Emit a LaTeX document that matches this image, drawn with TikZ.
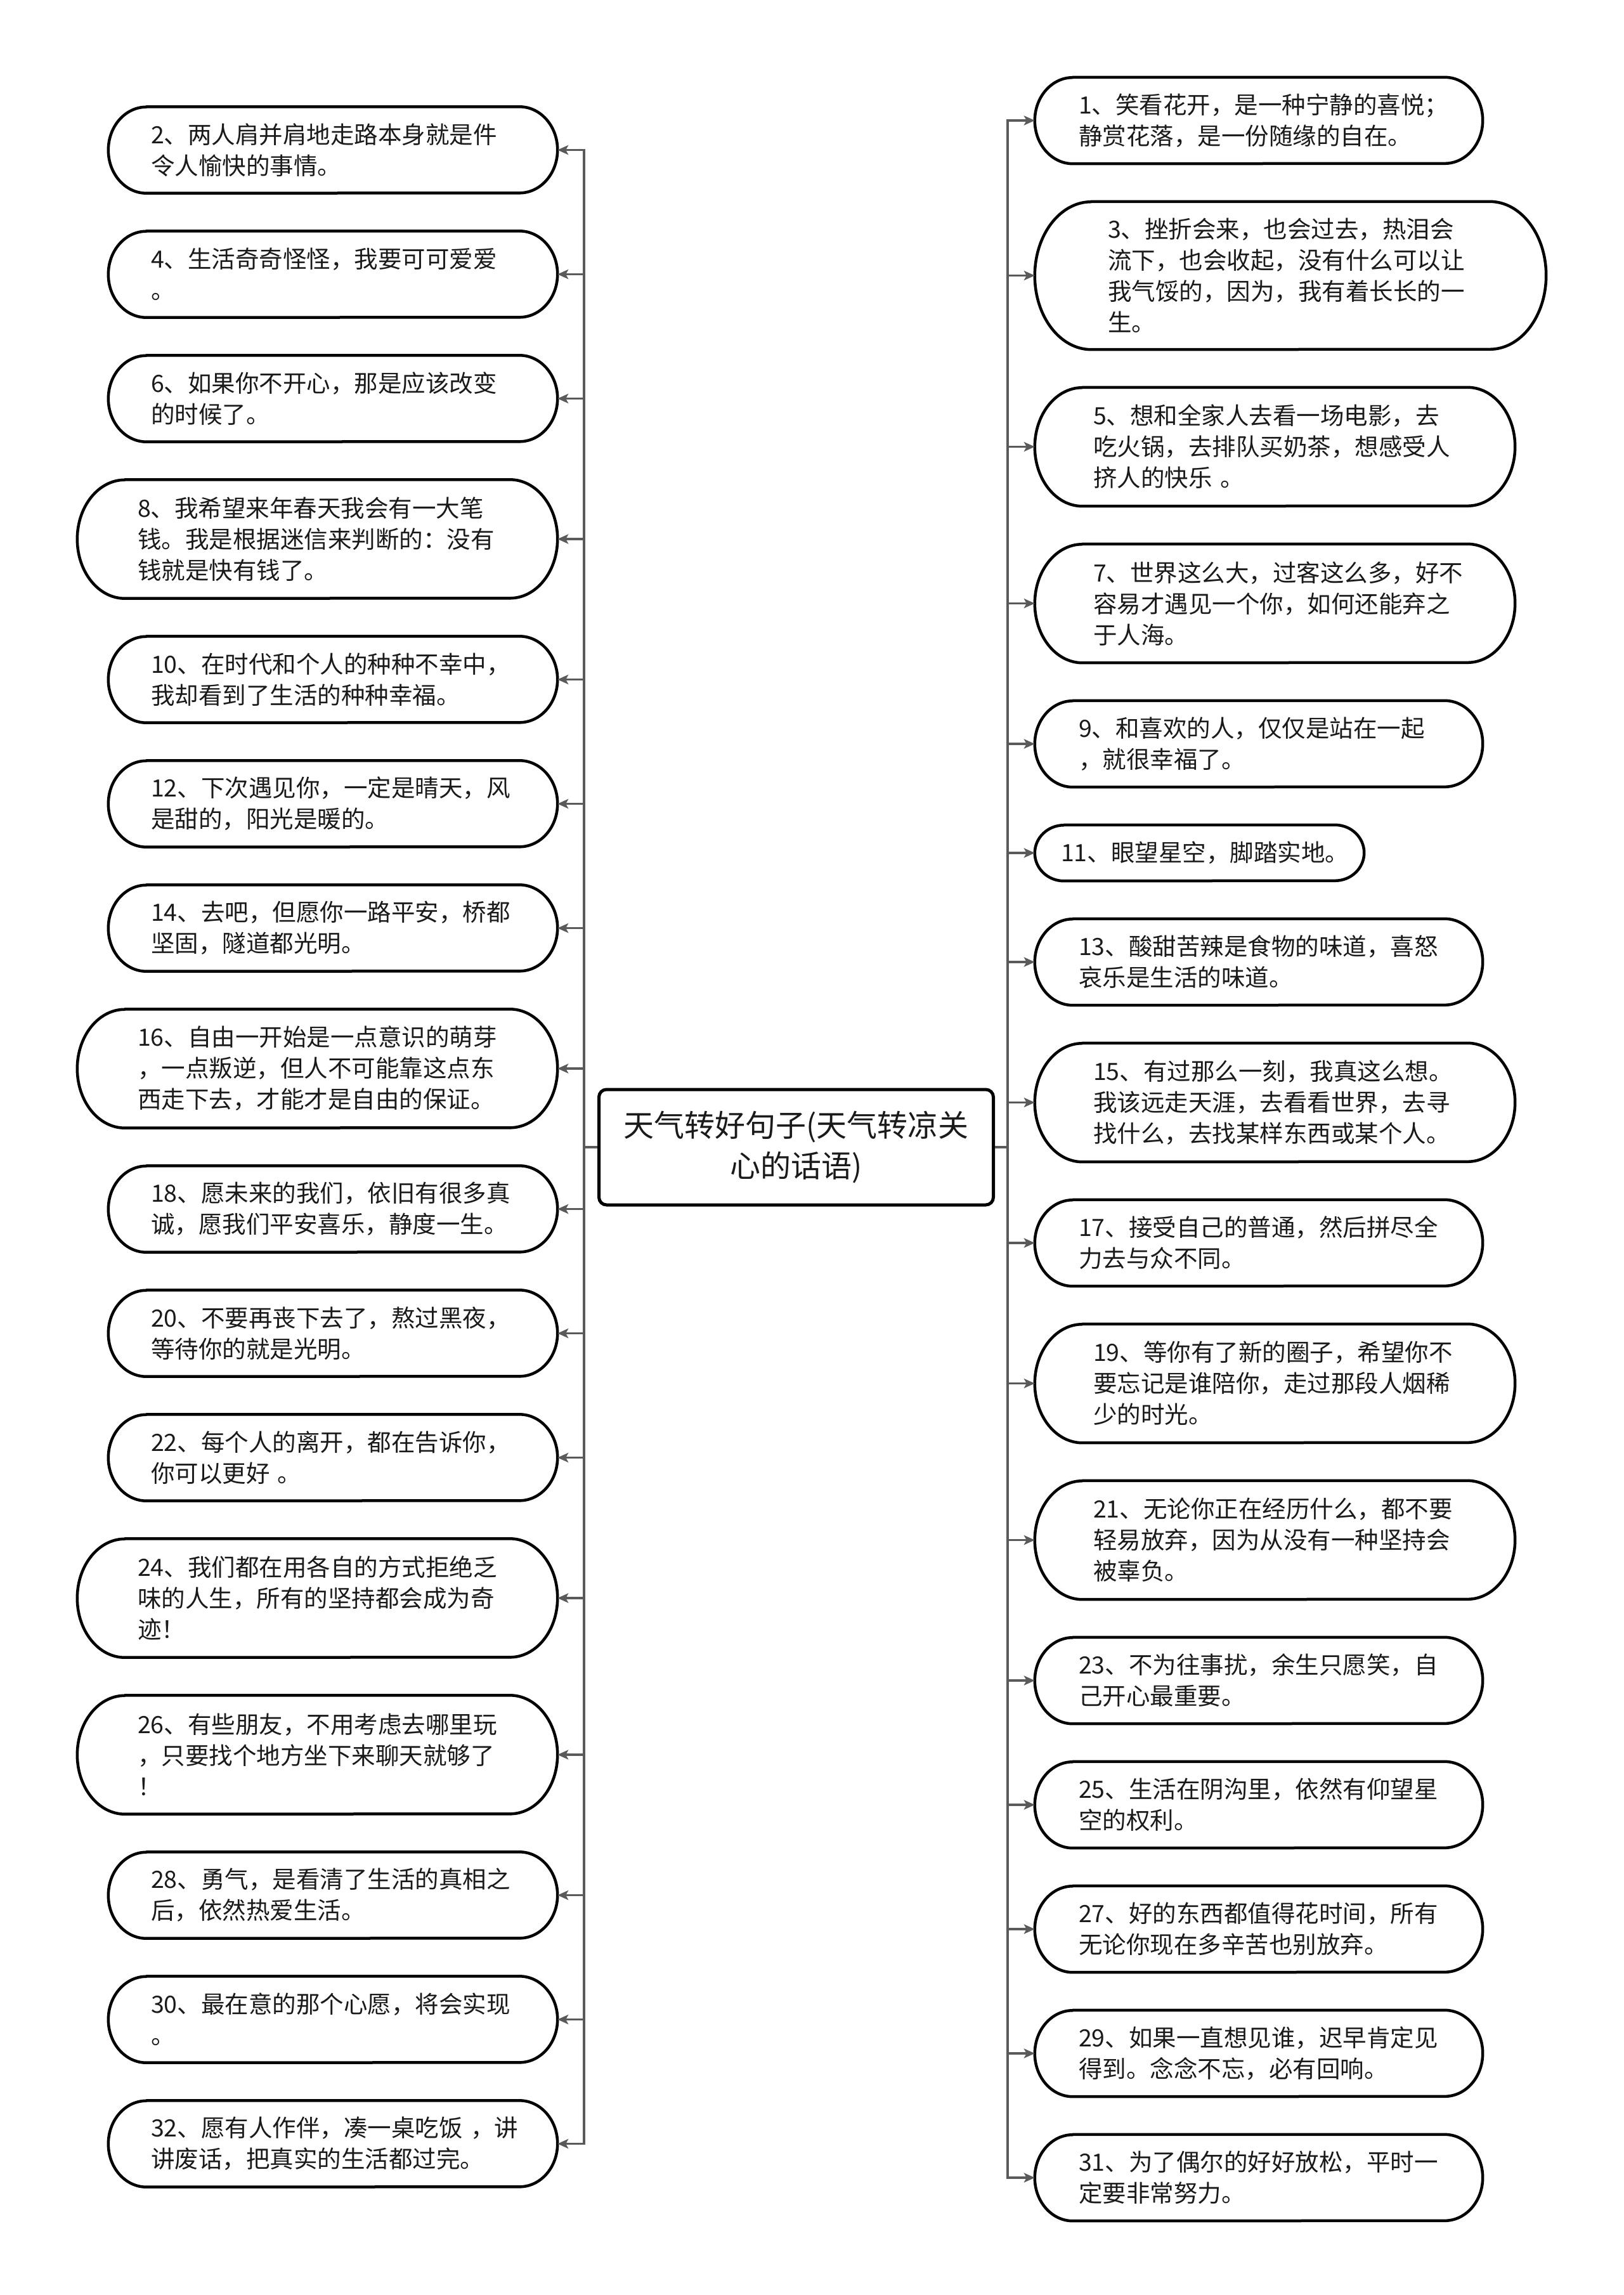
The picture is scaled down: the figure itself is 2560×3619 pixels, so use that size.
\documentclass[tikz,border=0pt]{standalone}
\usepackage{fontspec}
\setmainfont{Noto Sans CJK SC}
\usetikzlibrary{arrows.meta}
\definecolor{conncol}{HTML}{5A5A5A}
\definecolor{txtcol}{HTML}{1A1A1A}
\tikzset{
  leaf/.style={rectangle, inner sep=0pt, align=left, text=txtcol, font=\fontsize{37.5}{49}\selectfont},
  pillline/.style={draw=black, line width=4.5pt, line join=round},
  conn/.style={draw=conncol, line width=3.5pt, -{Stealth[length=17pt,width=15pt,inset=4pt]}},
  rootbox/.style={draw=black, line width=5pt, rounded corners=12pt, minimum width=622pt, minimum height=182pt, align=center, text=txtcol, font=\fontsize{48}{64}\selectfont, inner sep=0pt}
}
% #1 name, #2 x0, #3 x1, #4 centre y, #5 height, #6 left pad, #7 end radius, #8 text
\newcommand\pill[8]{%
  \pgfmathsetmacro\pw{#3-#2}%
  \pgfmathsetmacro\ptw{#3-#2-2*#6}%
  \pgfmathsetmacro\pcx{(#2+#3)/2}%
  \pgfmathsetmacro\phh{#5/2}%
  \node[leaf, minimum width=\pw pt, minimum height=#5pt, text width=\ptw pt] (#1) at (\pcx,-#4) {#8};
  \draw[pillline] ([xshift=#7pt]#1.north west) -- ([xshift=-#7pt]#1.north east)
    arc[start angle=90, end angle=-90, x radius=#7pt, y radius=\phh pt]
    -- ([xshift=#7pt]#1.south west)
    arc[start angle=270, end angle=90, x radius=#7pt, y radius=\phh pt] -- cycle;
}
\begin{document}
\begin{tikzpicture}[x=1pt,y=1pt]
\fill[white] (0,0) rectangle (2560,-3619);
\useasboundingbox (0,0) rectangle (2560,-3619);

\node[rootbox] (root) at (1255.5,-1809) {天气转好句子(天气转凉关\\心的话语)};
\coordinate (lt) at (921,-1809);
\coordinate (rt) at (1589,-1809);

% left column
\pill{n2}{171}{879}{236.5}{136}{67}{60}{2、两人肩并肩地走路本身就是件\\令人愉快的事情。}
\pill{n4}{171}{879}{432.5}{136}{67}{60}{4、生活奇奇怪怪，我要可可爱爱\\。}
\pill{n6}{171}{879}{628.5}{136}{67}{60}{6、如果你不开心，那是应该改变\\的时候了。}
\pill{n8}{122}{879}{850}{187}{95}{75}{8、我希望来年春天我会有一大笔\\钱。我是根据迷信来判断的：没有\\钱就是快有钱了。}
\pill{n10}{171}{879}{1071.5}{136}{67}{60}{10、在时代和个人的种种不幸中，\\我却看到了生活的种种幸福。}
\pill{n12}{171}{879}{1267.5}{136}{67}{60}{12、下次遇见你，一定是晴天，风\\是甜的，阳光是暖的。}
\pill{n14}{171}{879}{1463.5}{136}{67}{60}{14、去吧，但愿你一路平安，桥都\\坚固，隧道都光明。}
\pill{n16}{122}{879}{1685}{187}{95}{75}{16、自由一开始是一点意识的萌芽\\，一点叛逆，但人不可能靠这点东\\西走下去，才能才是自由的保证。}
\pill{n18}{171}{879}{1906.5}{136}{67}{60}{18、愿未来的我们，依旧有很多真\\诚，愿我们平安喜乐，静度一生。}
\pill{n20}{171}{879}{2102.5}{136}{67}{60}{20、不要再丧下去了，熬过黑夜，\\等待你的就是光明。}
\pill{n22}{171}{879}{2298.5}{136}{67}{60}{22、每个人的离开，都在告诉你，\\你可以更好~。}
\pill{n24}{122}{879}{2520}{187}{95}{75}{24、我们都在用各自的方式拒绝乏\\味的人生，所有的坚持都会成为奇\\迹！}
\pill{n26}{122}{879}{2767}{187}{95}{75}{26、有些朋友，不用考虑去哪里玩\\，只要找个地方坐下来聊天就够了\\！}
\pill{n28}{171}{879}{2988.5}{136}{67}{60}{28、勇气，是看清了生活的真相之\\后，依然热爱生活。}
\pill{n30}{171}{879}{3184.5}{136}{67}{60}{30、最在意的那个心愿，将会实现\\。}
\pill{n32}{171}{879}{3380.5}{136}{67}{60}{32、愿有人作伴，凑一桌吃饭~，讲\\讲废话，把真实的生活都过完。}

% right column
\pill{n1}{1632}{2338}{190}{136}{69}{60}{1、笑看花开，是一种宁静的喜悦；\\静赏花落，是一份随缘的自在。}
\pill{n3}{1632}{2438}{434.5}{233}{115}{89}{3、挫折会来，也会过去，热泪会\\流下，也会收起，没有什么可以让\\我气馁的，因为，我有着长长的一\\生。}
\pill{n5}{1632}{2389}{704.5}{187}{92}{75}{5、想和全家人去看一场电影，去\\吃火锅，去排队买奶茶，想感受人\\挤人的快乐~。}
\pill{n7}{1632}{2389}{951.5}{187}{92}{75}{7、世界这么大，过客这么多，好不\\容易才遇见一个你，如何还能弃之\\于人海。}
\pill{n9}{1632}{2338}{1173}{136}{69}{60}{9、和喜欢的人，仅仅是站在一起\\，就很幸福了。}
\pill{n11}{1632}{2151}{1345}{88}{41}{46}{11、眼望星空，脚踏实地。}
\pill{n13}{1632}{2338}{1517}{136}{69}{60}{13、酸甜苦辣是食物的味道，喜怒\\哀乐是生活的味道。}
\pill{n15}{1632}{2389}{1738.5}{187}{92}{75}{15、有过那么一刻，我真这么想。\\我该远走天涯，去看看世界，去寻\\找什么，去找某样东西或某个人。}
\pill{n17}{1632}{2338}{1960}{136}{69}{60}{17、接受自己的普通，然后拼尽全\\力去与众不同。}
\pill{n19}{1632}{2389}{2181.5}{187}{92}{75}{19、等你有了新的圈子，希望你不\\要忘记是谁陪你，走过那段人烟稀\\少的时光。}
\pill{n21}{1632}{2389}{2428.5}{187}{92}{75}{21、无论你正在经历什么，都不要\\轻易放弃，因为从没有一种坚持会\\被辜负。}
\pill{n23}{1632}{2338}{2650}{136}{69}{60}{23、不为往事扰，余生只愿笑，自\\己开心最重要。}
\pill{n25}{1632}{2338}{2846}{136}{69}{60}{25、生活在阴沟里，依然有仰望星\\空的权利。}
\pill{n27}{1632}{2338}{3042}{136}{69}{60}{27、好的东西都值得花时间，所有\\无论你现在多辛苦也别放弃。}
\pill{n29}{1632}{2338}{3238}{136}{69}{60}{29、如果一直想见谁，迟早肯定见\\得到。念念不忘，必有回响。}
\pill{n31}{1632}{2338}{3434}{136}{69}{60}{31、为了偶尔的好好放松，平时一\\定要非常努力。}

% connectors
\foreach \n in {n2,n4,n6,n8,n10,n12,n14,n16,n18,n20,n22,n24,n26,n28,n30,n32}
  \draw[conn] (root.west) -- (lt) |- (\n.east);
\foreach \n in {n1,n3,n5,n7,n9,n11,n13,n15,n17,n19,n21,n23,n25,n27,n29,n31}
  \draw[conn] (root.east) -- (rt) |- (\n.west);
\end{tikzpicture}
\end{document}
